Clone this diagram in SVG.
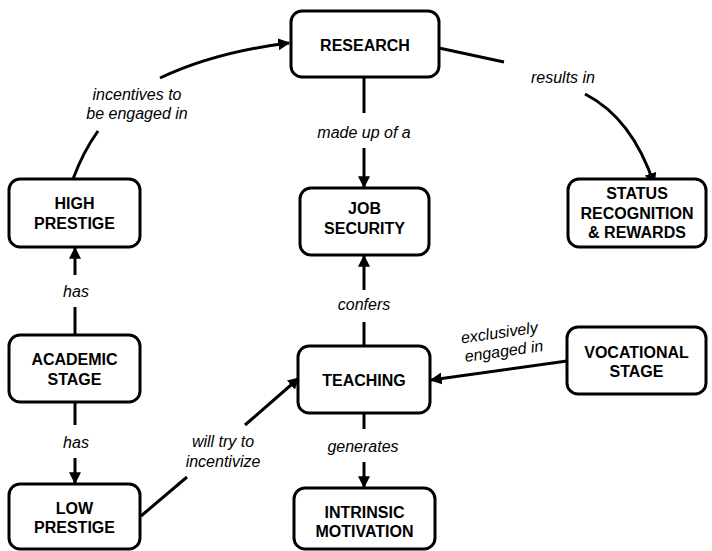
<svg xmlns="http://www.w3.org/2000/svg" width="712" height="551" viewBox="0 0 712 551">
<style>
.node rect{fill:#fff;stroke:#000;stroke-width:3}
.node text{font-family:"Liberation Sans",Arial,sans-serif;font-weight:bold;font-size:16px;text-anchor:middle;fill:#000}
.conn path{fill:none;stroke:#000;stroke-width:3}
.lbl{font-family:"Liberation Sans",Arial,sans-serif;font-style:italic;font-size:16px;text-anchor:middle;fill:#000}
</style>
<defs>
<marker id="ah" viewBox="0 0 10 10" refX="9" refY="5" markerWidth="4" markerHeight="4" orient="auto" markerUnits="strokeWidth">
<path d="M0,0 L10,5 L0,10 z" fill="#000"/>
</marker>
</defs>
<rect width="712" height="551" fill="#fff"/>
<g class="conn">
<path d="M73,179 Q83,152 98,131"/>
<path d="M160,78 Q215,52 289,43" marker-end="url(#ah)"/>
<path d="M439,48 L504,62"/>
<path d="M585,94 Q632,118 654,184" marker-end="url(#ah)"/>
<path d="M364,77 L364,113"/>
<path d="M364,148 L364,187" marker-end="url(#ah)"/>
<path d="M75,334 L75,307"/>
<path d="M75,275 L75,248" marker-end="url(#ah)"/>
<path d="M75,402 L75,425"/>
<path d="M75,458 L75,483" marker-end="url(#ah)"/>
<path d="M141,516 L187,477"/>
<path d="M245,425 L299,378" marker-end="url(#ah)"/>
<path d="M364,346 L364,322"/>
<path d="M364,290 L364,256" marker-end="url(#ah)"/>
<path d="M364,413 L364,429"/>
<path d="M364,462 L364,487" marker-end="url(#ah)"/>
<path d="M567,361 L431,380" marker-end="url(#ah)"/>
</g>
<g id="labels">
<text class="lbl" x="137" y="100">incentives  to</text>
<text class="lbl" x="137" y="119">be engaged in</text>
<text class="lbl" x="563" y="83">results in</text>
<text class="lbl" x="364" y="138">made up of a</text>
<text class="lbl" x="76" y="297">has</text>
<text class="lbl" x="76" y="448">has</text>
<text class="lbl" x="223" y="447">will try to</text>
<text class="lbl" x="223" y="467">incentivize</text>
<text class="lbl" x="364" y="310">confers</text>
<text class="lbl" x="363" y="452">generates</text>
<g transform="translate(500,338) rotate(-8)">
<text class="lbl" x="0" y="0">exclusively</text>
<text class="lbl" x="2" y="19">engaged in</text>
</g>
</g>
<g id="research" class="node"><rect x="291" y="11" width="148" height="66" rx="11"/><text x="365" y="51">RESEARCH</text></g>
<g id="jobsecurity" class="node"><rect x="300" y="188" width="129" height="67" rx="11"/><text x="364.5" y="214">JOB</text><text x="364.5" y="234">SECURITY</text></g>
<g id="status" class="node"><rect x="568" y="179" width="138" height="68" rx="11"/><text x="637" y="199">STATUS</text><text x="637" y="219">RECOGNITION</text><text x="637" y="238">&amp; REWARDS</text></g>
<g id="highprestige" class="node"><rect x="9" y="179" width="131" height="68" rx="11"/><text x="74.5" y="209">HIGH</text><text x="74.5" y="229">PRESTIGE</text></g>
<g id="academic" class="node"><rect x="9" y="335" width="131" height="67" rx="11"/><text x="74.5" y="365">ACADEMIC</text><text x="74.5" y="385">STAGE</text></g>
<g id="lowprestige" class="node"><rect x="9" y="484" width="131" height="65" rx="11"/><text x="74.5" y="514">LOW</text><text x="74.5" y="533">PRESTIGE</text></g>
<g id="teaching" class="node"><rect x="298" y="346" width="132" height="67" rx="11"/><text x="364" y="386">TEACHING</text></g>
<g id="intrinsic" class="node"><rect x="294" y="488" width="141" height="61" rx="11"/><text x="364.5" y="518">INTRINSIC</text><text x="364.5" y="537">MOTIVATION</text></g>
<g id="vocational" class="node"><rect x="567" y="327" width="139" height="67" rx="11"/><text x="636.5" y="358">VOCATIONAL</text><text x="636.5" y="377">STAGE</text></g>
</svg>
